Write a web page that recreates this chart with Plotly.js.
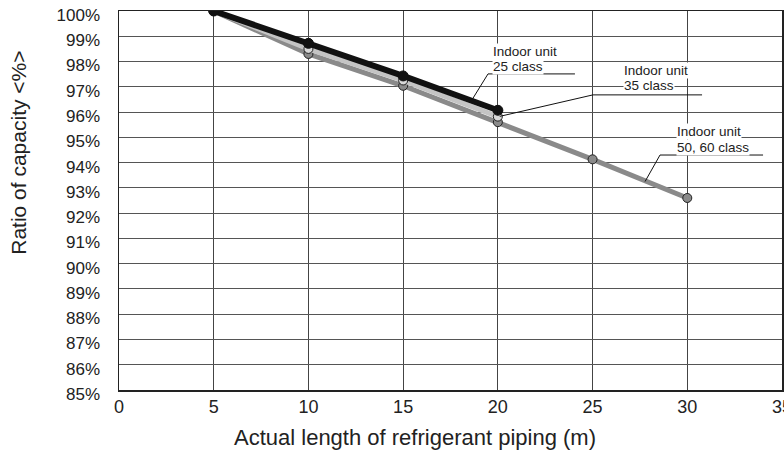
<!DOCTYPE html>
<html><head><meta charset="utf-8">
<script src="https://cdn.plot.ly/plotly-3.0.1.min.js"></script>
<style>html,body{margin:0;padding:0;background:#fff}#chart{width:784px;height:452px}</style>
</head><body><div id="chart"></div>
<script>
const lengths = [5, 10, 15, 20, 25, 30];
const class25 = [100, 98.72, 97.43, 96.07];
const class35 = [100, 98.5, 97.25, 95.82];
const class5060 = [100, 98.3, 97.04, 95.6, 94.13, 92.6];
const labelTop = ['Indoor unit', 'Indoor unit', 'Indoor unit'];
const labelBottom = ['25 class', '35 class', '50, 60 class'];
const yTicks = [85,86,87,88,89,90,91,92,93,94,95,96,97,98,99,100];
const xTicks = [0,5,10,15,20,25,30,35];
const xTitle = 'Actual length of refrigerant piping (m)';
const yTitle = 'Ratio of capacity &lt;%&gt;';

const font = 'Liberation Sans, Arial, sans-serif';
const traces = [
  {x: lengths, y: class5060, mode: 'lines+markers', line: {color: '#8a8a8a', width: 5},
   marker: {size: 9, color: '#8a8a8a', line: {color: '#222', width: 1}}},
  {x: lengths.slice(0, class35.length), y: class35, mode: 'lines+markers', line: {color: '#c4c4c4', width: 5},
   marker: {size: 9, color: '#d8d8d8', line: {color: '#222', width: 1}}},
  {x: lengths.slice(0, class25.length), y: class25, mode: 'lines+markers', line: {color: '#111', width: 6},
   marker: {size: 10, color: '#111', line: {color: '#111', width: 1}}}
];

const ann = (x, y, t) => ({x: x, y: y, xref: 'x', yref: 'y', text: t, showarrow: false,
  xanchor: 'left', yanchor: 'middle', align: 'left', bgcolor: '#fff', borderpad: 0,
  font: {family: font, size: 13.5, color: '#222'}});
const seg = (x0, y0, x1, y1) => ({type: 'line', xref: 'x', yref: 'y', x0: x0, y0: y0, x1: x1, y1: y1,
  line: {color: '#111', width: 1}});

const layout = {
  width: 784, height: 452, margin: {l: 119, r: 2, t: 11, b: 62},
  paper_bgcolor: '#fff', plot_bgcolor: '#fff', showlegend: false,
  font: {family: font, color: '#222', size: 17},
  xaxis: {range: [0, 35], tickvals: xTicks, ticktext: xTicks.map(String), showgrid: true, gridcolor: '#444', gridwidth: 1,
    zeroline: false, showline: true, linecolor: '#222', linewidth: 1.5, mirror: true, ticks: '', ticklen: 0,
    ticklabeloverflow: 'allow', ticklabelstandoff: 0,
    tickfont: {size: 18}},
  yaxis: {range: [85, 100], tickvals: yTicks, ticktext: yTicks.map(v => v + '%'), showgrid: true, gridcolor: '#555', gridwidth: 1,
    zeroline: false, showline: true, linecolor: '#222', linewidth: 1.5, mirror: true, ticks: '', ticklen: 0,
    ticklabeloverflow: 'allow', ticklabelstandoff: 14, ticklabelshift: 4,
    tickfont: {size: 17}},
  annotations: [
    ann(19.69, 98.417, labelTop[0]), ann(19.69, 97.784, labelBottom[0]),
    ann(26.61, 97.665, labelTop[1]), ann(26.61, 97.032, labelBottom[1]),
    ann(29.40, 95.212, labelTop[2]), ann(29.40, 94.579, labelBottom[2]),
    {xref: 'paper', yref: 'paper', x: 0.4465, y: -0.125, yanchor: 'middle', xanchor: 'center',
     text: xTitle, showarrow: false, font: {family: font, size: 22, color: '#222'}},
    {xref: 'paper', yref: 'paper', x: -0.152, y: 0.6265, yanchor: 'middle', xanchor: 'center', textangle: -90,
     text: yTitle, showarrow: false, font: {family: font, size: 21, color: '#222'}}
  ],
  shapes: [
    seg(19.48, 97.51, 24.07, 97.51), seg(19.48, 97.51, 18.63, 96.48),
    seg(25.02, 96.68, 30.78, 96.68), seg(25.02, 96.68, 20.1, 95.83),
    seg(28.56, 94.30, 34.0, 94.30), seg(28.56, 94.30, 27.77, 93.25)
  ]
};
Plotly.newPlot('chart', traces, layout, {displayModeBar: false, staticPlot: true});
</script></body></html>
